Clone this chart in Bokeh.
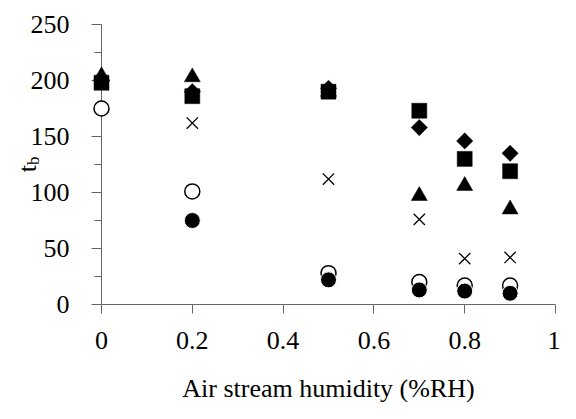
import numpy as np
from bokeh.plotting import figure
from bokeh.models import Range1d, FixedTicker, SingleIntervalTicker, CustomJSTickFormatter
from bokeh.core.properties import value
from bokeh.embed import file_html
from bokeh.resources import INLINE

# ---- data ----
humidity = [0, 0.2, 0.5, 0.7, 0.8, 0.9]
tb_diamond = [200, 190, 193, 158, 146, 135]
tb_square = [198, 186, 190, 173, 130, 119]
tb_triangle = [204, 203, 190, 97, 106, 85]
tb_cross = [200, 162, 112, 76, 41, 42]
tb_open_circle = [175, 101, 28, 20, 17, 17]
tb_filled_circle = [199, 75, 22, 13, 12, 10]

x_ticks = [0, 0.2, 0.4, 0.6, 0.8, 1.0]
x_title = "Air stream humidity (%RH)"
y_title_main = "t"
y_title_sub = "b"

FONT = "Liberation Serif"
FS = "26px"

p = figure(
    output_backend="svg", toolbar_location=None,
    frame_width=454, frame_height=280,
    min_border_left=101, min_border_right=5, min_border_top=24, min_border_bottom=99,
    x_range=Range1d(0, 1.0), y_range=Range1d(0, 250),
    background_fill_color="white", border_fill_color="white",
)
p.outline_line_color = None
p.grid.visible = False

# axes
xa = p.xaxis[0]
xa.ticker = FixedTicker(ticks=x_ticks)
xa.formatter = CustomJSTickFormatter(code="return tick.toString();")
xa.minor_tick_line_color = None
xa.major_tick_in = 0
xa.major_tick_out = 9
xa.major_label_standoff = 18
xa.axis_label = x_title
xa.axis_label_text_font = FONT
xa.axis_label_text_font_size = FS
xa.axis_label_text_font_style = "normal"
xa.axis_label_text_color = "black"
xa.axis_label_standoff = 22

ya = p.yaxis[0]
ya.ticker = SingleIntervalTicker(interval=50, num_minor_ticks=2)
ya.major_tick_in = 0
ya.major_tick_out = 10
ya.minor_tick_in = 0
ya.minor_tick_out = 7
ya.major_label_standoff = 22

for ax in (xa, ya):
    ax.axis_line_color = "#666666"
    ax.axis_line_width = 1
    ax.major_tick_line_color = "#666666"
    ax.major_label_text_font = FONT
    ax.major_label_text_font_size = FS
    ax.major_label_text_color = "black"
ya.minor_tick_line_color = "#666666"

# rotated y title "t" with subscript "b", placed left of the tick labels
t_main = p.text(x=[-0.163], y=[118], text=[y_title_main], angle=np.pi / 2,
                text_font=value(FONT), text_font_size=value(FS), text_color="black",
                text_align="left", text_baseline="alphabetic")
t_sub = p.text(x=[-0.150], y=[124.5], text=[y_title_sub], angle=np.pi / 2,
               text_font=value(FONT), text_font_size=value("17px"), text_color="black",
               text_align="left", text_baseline="alphabetic")

# markers
rs = [t_main, t_sub]
rs.append(p.scatter(humidity, tb_cross, marker="x", size=16, line_color="black", line_width=1.3))
rs.append(p.scatter(humidity, tb_open_circle, marker="circle", size=15,
                    fill_color="white", line_color="black", line_width=1.5))
rs.append(p.scatter(humidity, tb_filled_circle, marker="circle", size=16,
                    fill_color="black", line_color="white", line_width=1))
rs.append(p.scatter(humidity, tb_diamond, marker="square", angle=np.pi / 4, size=11.5,
                    fill_color="black", line_color="black", line_width=0.5))
rs.append(p.scatter(humidity, tb_triangle, marker="triangle", size=16,
                    fill_color="black", line_color="black", line_width=0.5))
rs.append(p.scatter(humidity, tb_square, marker="square", size=15,
                    fill_color="black", line_color="black", line_width=0.5))
# draw above the frame clip so that points at x=0 and the title stay whole
for r in rs:
    r.level = "overlay"

open("out.html", "w").write(file_html(p, INLINE))
